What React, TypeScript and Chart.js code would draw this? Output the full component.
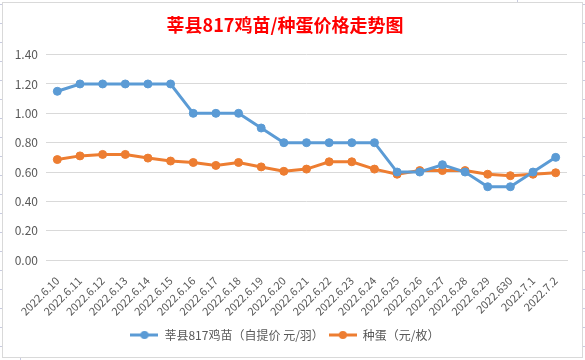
import React, { useEffect, useRef } from "react";
import { Chart, registerables } from "chart.js";

Chart.register(...registerables);

const categories = [
  "2022.6.10", "2022.6.11", "2022.6.12", "2022.6.13", "2022.6.14", "2022.6.15",
  "2022.6.16", "2022.6.17", "2022.6.18", "2022.6.19", "2022.6.20", "2022.6.21",
  "2022.6.22", "2022.6.23", "2022.6.24", "2022.6.25", "2022.6.26", "2022.6.27",
  "2022.6.28", "2022.6.29", "2022.630", "2022.7.1", "2022.7.2",
];

const chickPrices = [
  1.15, 1.2, 1.2, 1.2, 1.2, 1.2, 1.0, 1.0, 1.0, 0.9, 0.8, 0.8,
  0.8, 0.8, 0.8, 0.6, 0.6, 0.65, 0.6, 0.5, 0.5, 0.6, 0.7,
];

const eggPrices = [
  0.685, 0.71, 0.72, 0.72, 0.695, 0.675, 0.665, 0.645, 0.665, 0.635, 0.605, 0.62,
  0.67, 0.67, 0.62, 0.585, 0.61, 0.61, 0.61, 0.585, 0.575, 0.585, 0.595,
];

const seriesNames = ["莘县817鸡苗（自提价 元/羽）", "种蛋（元/枚）"];
const seriesColors = ["#5B9BD5", "#ED7D31"];
const titleText = "莘县817鸡苗/种蛋价格走势图";

const FONT = "'Noto Sans CJK SC', 'Noto Sans', sans-serif";

function makeIcon(color: string) {
  const c = document.createElement("canvas");
  c.width = 28;
  c.height = 10;
  const ctx = c.getContext("2d")!;
  ctx.strokeStyle = color;
  ctx.lineWidth = 3;
  ctx.beginPath();
  ctx.moveTo(0, 5);
  ctx.lineTo(28, 5);
  ctx.stroke();
  ctx.fillStyle = color;
  ctx.beginPath();
  ctx.arc(14, 5, 4, 0, Math.PI * 2);
  ctx.fill();
  return c;
}

const framePlugin = {
  id: "frame",
  beforeDraw(chart: any) {
    const ctx = chart.ctx;
    ctx.save();
    ctx.fillStyle = "#ffffff";
    ctx.fillRect(0, 0, chart.width, chart.height);
    ctx.strokeStyle = "#d9d9d9";
    ctx.lineWidth = 1;
    ctx.strokeRect(2.5, 2.5, 580, 355);
    ctx.strokeStyle = "#c8cbe0";
    ctx.beginPath();
    for (let y = 4.5; y < 360; y += 19) {
      ctx.moveTo(0, y);
      ctx.lineTo(2, y);
      ctx.moveTo(583, y);
      ctx.lineTo(585, y);
    }
    ctx.moveTo(517.5, 0);
    ctx.lineTo(517.5, 2);
    ctx.moveTo(20.5, 358);
    ctx.lineTo(20.5, 360);
    ctx.stroke();
    ctx.restore();
  },
};

export default function App() {
  const ref = useRef<HTMLCanvasElement | null>(null);

  useEffect(() => {
    if (!ref.current) return;
    const icons = seriesColors.map(makeIcon);
    const chart = new Chart(ref.current, {
      type: "line",
      data: {
        labels: categories,
        datasets: [
          {
            label: seriesNames[0],
            data: chickPrices,
            borderColor: seriesColors[0],
            backgroundColor: seriesColors[0],
            pointBackgroundColor: seriesColors[0],
            pointBorderColor: seriesColors[0],
            borderWidth: 3,
            pointRadius: 4,
            pointBorderWidth: 1,
            tension: 0,
          },
          {
            label: seriesNames[1],
            data: eggPrices,
            borderColor: seriesColors[1],
            backgroundColor: seriesColors[1],
            pointBackgroundColor: seriesColors[1],
            pointBorderColor: seriesColors[1],
            borderWidth: 3,
            pointRadius: 4,
            pointBorderWidth: 1,
            tension: 0,
          },
        ],
      },
      options: {
        responsive: false,
        animation: false,
        devicePixelRatio: 1,
        layout: { padding: { left: 3, right: 18, top: 0, bottom: 9 } },
        plugins: {
          title: {
            display: true,
            text: titleText,
            color: "#FF0000",
            font: { family: FONT, size: 18, weight: "bold" },
            padding: { top: 14, bottom: 19 },
          },
          legend: {
            position: "bottom",
            labels: {
              usePointStyle: true,
              pointStyleWidth: 28,
              color: "#595959",
              font: { family: FONT, size: 12 },
              padding: 5,
              generateLabels: (ch: any) =>
                (Chart.defaults.plugins.legend.labels as any)
                  .generateLabels(ch)
                  .map((l: any, i: number) => ({ ...l, pointStyle: icons[i] })),
            },
          },
          tooltip: { enabled: false },
        },
        scales: {
          x: {
            offset: true,
            grid: { display: false },
            border: { display: true, color: "#d9d9d9" },
            ticks: {
              autoSkip: false,
              minRotation: 45,
              maxRotation: 45,
              color: "#595959",
              font: { family: FONT, size: 11 },
              padding: 6,
            },
          },
          y: {
            min: 0,
            max: 1.4,
            afterFit: (s: any) => {
              s.width = 43;
            },
            grid: { color: "#d9d9d9", drawTicks: false },
            border: { display: false },
            ticks: {
              stepSize: 0.2,
              color: "#595959",
              font: { family: FONT, size: 12 },
              padding: 8,
              callback: (v: any) => Number(v).toFixed(2),
            },
          },
        },
      },
      plugins: [framePlugin],
    });
    return () => chart.destroy();
  }, []);

  return (
    <div style={{ position: "fixed", left: 0, top: 0, width: 585, height: 360, background: "#fff" }}>
      <canvas ref={ref} width={585} height={360} style={{ width: 585, height: 360, display: "block" }} />
    </div>
  );
}
